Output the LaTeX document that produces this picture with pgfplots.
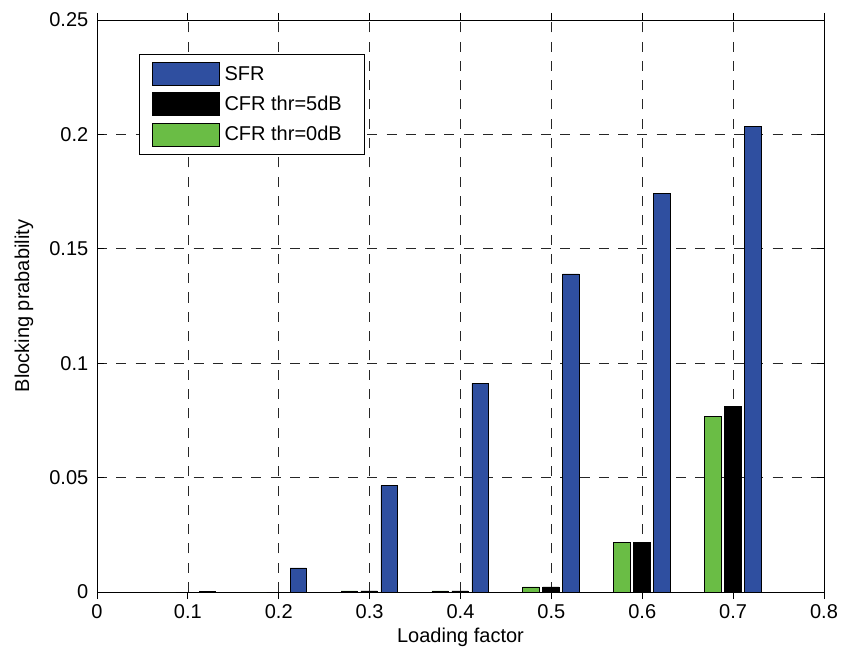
\documentclass[border=0pt]{standalone}
\usepackage{pgfplots}
\pgfplotsset{compat=1.18}
\usepackage{fontspec}
\setmainfont{Liberation Sans}
\definecolor{sfrblue}{RGB}{47,79,160}
\definecolor{cfrgreen}{RGB}{106,189,69}
\begin{document}
\begin{tikzpicture}[x=1pt,y=1pt]
\begin{axis}[
  scale only axis, width=727pt, height=572pt,
  xmin=0, xmax=0.8, ymin=0, ymax=0.25,
  xtick={0,0.1,0.2,0.3,0.4,0.5,0.6,0.7,0.8},
  ytick={0,0.05,0.1,0.15,0.2,0.25},
  xticklabels={0,0.1,0.2,0.3,0.4,0.5,0.6,0.7,0.8},
  yticklabels={0,0.05,0.1,0.15,0.2,0.25},
  tick label style={font=\fontsize{20}{24}\selectfont},
  xticklabel style={inner sep=5pt},
  yticklabel style={inner sep=8.5pt},
  label style={font=\fontsize{20}{24}\selectfont},
  xlabel={Loading factor},
  ylabel={Blocking prabability},
  xlabel style={yshift=-1pt},
  ylabel style={yshift=4pt},
  tick align=inside, major tick length=7pt,
  xtick pos=both, ytick pos=both,
  axis line style={black, line width=0.9pt},
  every tick/.style={black, line width=0.8pt},
  grid=major,
  major grid style={black!85, line width=0.6pt, dash pattern=on 10pt off 9.3pt},
  ybar,
  bar width=0.018,
  legend style={at={(0.0578,0.9406)}, anchor=north west, draw=black, line width=0.8pt,
    font=\fontsize{20}{24}\selectfont, inner xsep=12.5pt, inner ysep=8pt,
    nodes={inner sep=2pt}, row sep=6.5pt,
    /tikz/every odd column/.append style={column sep=3pt}},
  legend cell align=left,
  legend image code/.code={\draw[#1, line width=0.6pt] (0pt,-11.5pt) rectangle (67pt,11.5pt);},
]
\addplot[draw=black, line width=0.6pt, fill=sfrblue, bar shift=0.0215] coordinates {
  (0.1,0.0004) (0.2,0.0105) (0.3,0.0465) (0.4,0.0912) (0.5,0.139) (0.6,0.1742) (0.7,0.2035)};
\addlegendentry{SFR}
\addplot[draw=black, line width=0.6pt, fill=black, bar shift=-0.0005] coordinates {
  (0.1,0) (0.2,0) (0.3,0.0005) (0.4,0.0005) (0.5,0.0022) (0.6,0.0217) (0.7,0.0812)};
\addlegendentry{CFR thr=5dB}
\addplot[draw=black, line width=0.6pt, fill=cfrgreen, bar shift=-0.0225] coordinates {
  (0.1,0) (0.2,0) (0.3,0.0005) (0.4,0.0005) (0.5,0.0022) (0.6,0.0217) (0.7,0.0766)};
\addlegendentry{CFR thr=0dB\rule{8pt}{0pt}}
\coordinate (bl) at (rel axis cs:0,0);
\coordinate (tr) at (rel axis cs:1,1);
\end{axis}
\pgfresetboundingbox
\path ([shift={(-97pt,-58pt)}]bl) rectangle ([shift={(18pt,20pt)}]tr);
\end{tikzpicture}
\end{document}
